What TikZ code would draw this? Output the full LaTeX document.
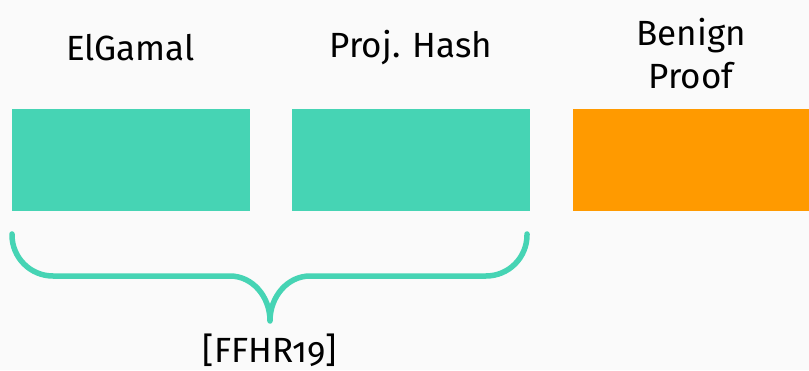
\documentclass[tikz,border=0pt]{standalone}
\usepackage{fontspec}
\setmainfont[Numbers=OldStyle]{Fira Sans}
\usetikzlibrary{positioning}

\definecolor{bgcol}{HTML}{FAFAFA}
\definecolor{teal}{HTML}{46D4B4}
\definecolor{amber}{HTML}{FF9A00}

\tikzset{
	block/.style={rectangle, inner sep=0pt, minimum width=238pt, minimum height=102pt},
	label/.style={font=\fontsize{35}{43}\selectfont, align=center},
	brace/.style={draw=teal, line width=5.5pt, line cap=round, line join=round}
}

\begin{document}
\begin{tikzpicture}[x=1pt, y=1pt]
		\fill[bgcol] (0, 0) rectangle (809, 370);
		\useasboundingbox (0, 0) rectangle (809, 370);

		\node[block, fill=teal] (eg) at (130.5, 210) {};
		\node[block, fill=teal] (ph) at (411, 210) {};
		\node[block, fill=amber] (bp) at (692, 210) {};

		\node[label] (egl) at (130.5, 322) {ElGamal};
		\node[label] (phl) at (411, 322) {Proj. Hash};
		\node[label] (bpl) at (691, 316) {Benign\\Proof};

		\coordinate (bl) at (12, 136);
		\coordinate (br) at (527, 136);
		\coordinate (tip) at (270, 49);
		\draw[brace] (bl) -- (12, 135) arc[start angle=180, end angle=270, radius=41]
			-- (230, 94) arc[start angle=90, end angle=0, x radius=40, y radius=45]
			arc[start angle=180, end angle=90, x radius=40, y radius=45]
			-- (486, 94) arc[start angle=270, end angle=360, radius=41] -- (br);

		\node[label] (ref) at (270, 20) {[FFHR19]};
	\end{tikzpicture}
\end{document}
